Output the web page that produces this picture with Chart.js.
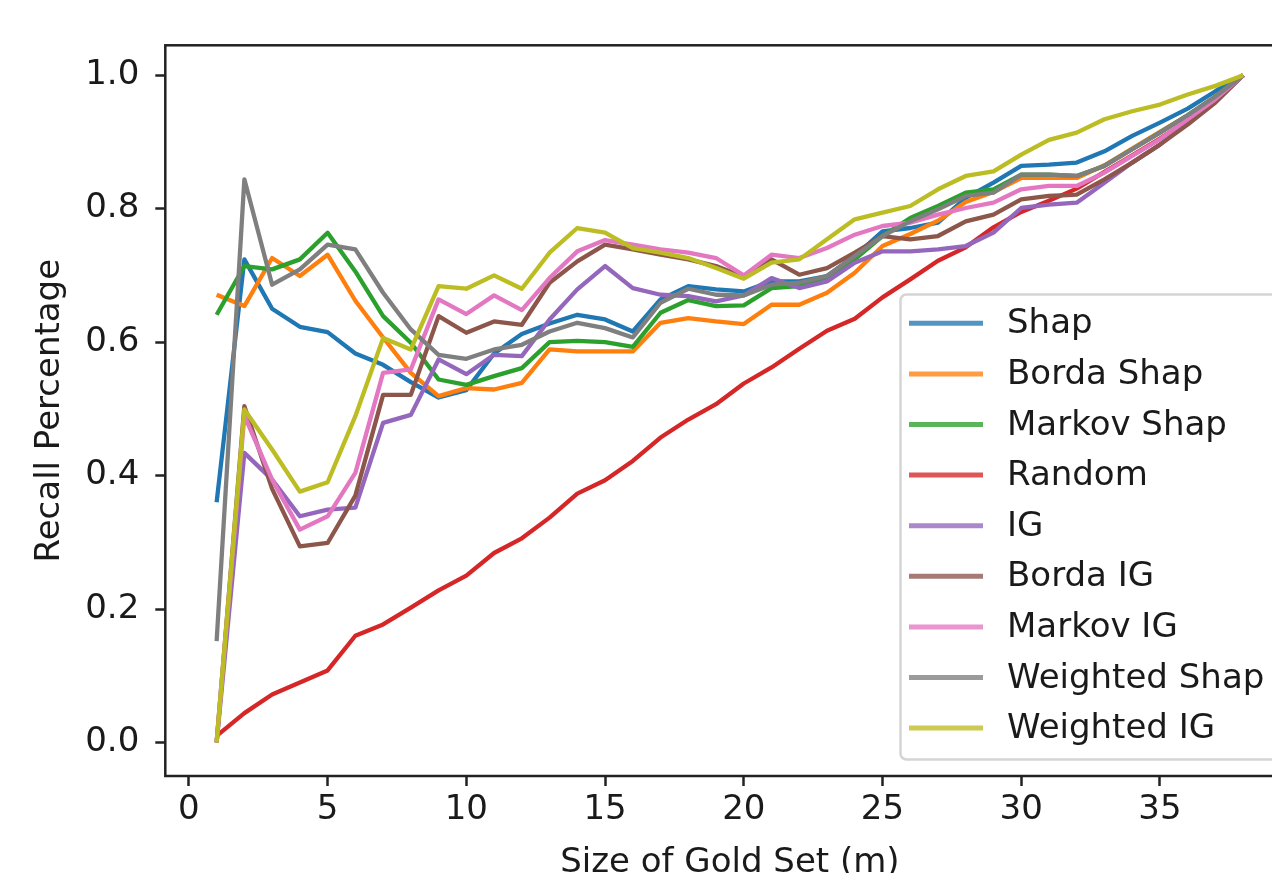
<!DOCTYPE html>
<html>
<head>
<meta charset="utf-8">
<script src="https://cdn.jsdelivr.net/npm/chart.js@4/dist/chart.umd.min.js"></script>
<style>
html,body{margin:0;padding:0;overflow:hidden;background:#fff;width:1272px;height:873px}
canvas{position:absolute;left:0;top:0}
</style>
</head>
<body>
<canvas id="c" width="1310" height="900"></canvas>
<script>
// ---- data ----
const goldSetSizes = [1,2,3,4,5,6,7,8,9,10,11,12,13,14,15,16,17,18,19,20,21,22,23,24,25,26,27,28,29,30,31,32,33,34,35,36,37,38];

const shap = [0.36,0.724,0.65,0.623,0.615,0.583,0.566,0.54,0.517,0.528,0.583,0.612,0.628,0.641,0.634,0.616,0.664,0.684,0.679,0.676,0.691,0.691,0.699,0.729,0.766,0.771,0.779,0.816,0.839,0.864,0.866,0.869,0.886,0.909,0.929,0.95,0.976,1.0];
const bordaShap = [0.671,0.654,0.726,0.699,0.731,0.662,0.607,0.554,0.519,0.531,0.529,0.539,0.589,0.586,0.586,0.586,0.629,0.636,0.631,0.627,0.656,0.656,0.674,0.704,0.744,0.762,0.782,0.81,0.825,0.846,0.846,0.846,0.865,0.89,0.915,0.94,0.968,1.0];
const markovShap = [0.641,0.714,0.709,0.724,0.764,0.706,0.639,0.599,0.544,0.536,0.549,0.561,0.6,0.602,0.6,0.593,0.644,0.663,0.654,0.655,0.681,0.684,0.694,0.724,0.759,0.786,0.804,0.824,0.829,0.851,0.851,0.849,0.864,0.889,0.914,0.94,0.968,1.0];
const random = [0.01,0.044,0.072,0.09,0.108,0.16,0.177,0.202,0.228,0.25,0.284,0.306,0.337,0.373,0.393,0.422,0.457,0.484,0.507,0.538,0.562,0.59,0.617,0.635,0.667,0.694,0.722,0.742,0.772,0.795,0.812,0.83,0.855,0.88,0.905,0.932,0.962,1.0];
const ig = [0.0,0.434,0.394,0.339,0.349,0.352,0.479,0.491,0.574,0.552,0.581,0.579,0.634,0.679,0.714,0.681,0.671,0.669,0.661,0.67,0.696,0.681,0.691,0.719,0.736,0.736,0.739,0.744,0.764,0.801,0.806,0.809,0.839,0.869,0.896,0.929,0.961,1.0];
const bordaIG = [0.0,0.504,0.38,0.294,0.299,0.37,0.521,0.521,0.639,0.614,0.631,0.626,0.689,0.721,0.746,0.739,0.731,0.724,0.714,0.698,0.724,0.701,0.711,0.734,0.759,0.754,0.759,0.781,0.791,0.814,0.819,0.821,0.844,0.869,0.896,0.926,0.959,1.0];
const markovIG = [0.0,0.49,0.394,0.319,0.339,0.404,0.554,0.559,0.664,0.642,0.67,0.648,0.696,0.736,0.753,0.746,0.739,0.734,0.726,0.7,0.731,0.726,0.741,0.761,0.774,0.779,0.791,0.801,0.809,0.829,0.834,0.834,0.854,0.879,0.904,0.934,0.964,1.0];
const weightedShap = [0.152,0.844,0.686,0.709,0.746,0.739,0.674,0.619,0.581,0.575,0.589,0.596,0.616,0.629,0.621,0.607,0.659,0.68,0.671,0.67,0.686,0.689,0.699,0.729,0.759,0.781,0.799,0.819,0.824,0.851,0.851,0.849,0.864,0.889,0.914,0.94,0.968,1.0];
const weightedIG = [0.0,0.499,0.439,0.376,0.39,0.489,0.606,0.589,0.684,0.68,0.7,0.68,0.734,0.771,0.764,0.741,0.734,0.726,0.711,0.695,0.719,0.724,0.754,0.784,0.794,0.804,0.829,0.849,0.856,0.881,0.903,0.914,0.934,0.946,0.956,0.971,0.984,1.0];

const seriesNames = ['Shap','Borda Shap','Markov Shap','Random','IG','Borda IG','Markov IG','Weighted Shap','Weighted IG'];
const seriesValues = [shap,bordaShap,markovShap,random,ig,bordaIG,markovIG,weightedShap,weightedIG];
const seriesColors = ['#1f77b4','#ff7f0e','#2ca02c','#d62728','#9467bd','#8c564b','#e377c2','#7f7f7f','#bcbd22'];

const xTickValues = [0,5,10,15,20,25,30,35];
const yTickValues = [0.0,0.2,0.4,0.6,0.8,1.0];
const xTitle = 'Size of Gold Set (m)';
const yTitle = 'Recall Percentage';

// ---- layout constants ----
const FONT = 'DejaVu Sans';
const FS = 34;
const AREA = {left:165.3, top:45.3, right:1294.5, bottom:776};
const CANVAS_W = 1310, CANVAS_H = 900;
const INK = '#1a1a1a';

function hexAlpha(hex, a){
  const r=parseInt(hex.slice(1,3),16), g=parseInt(hex.slice(3,5),16), b=parseInt(hex.slice(5,7),16);
  return `rgba(${r},${g},${b},${a})`;
}

const datasets = seriesNames.map((name,i)=>({
  label: name,
  data: goldSetSizes.map((x,j)=>({x:x, y:seriesValues[i][j]})),
  borderColor: seriesColors[i],
  backgroundColor: seriesColors[i],
  borderWidth: 4.3,
  pointRadius: 0,
  pointHoverRadius: 0,
  tension: 0,
  fill: false,
  borderJoinStyle: 'round',
  borderCapStyle: 'butt',
  order: seriesNames.length - 1 - i
}));

const framePlugin = {
  id: 'frame',
  afterDatasetsDraw(chart){
    const {ctx, chartArea:a} = chart;
    ctx.save();
    ctx.strokeStyle = '#222';
    ctx.lineWidth = 2.5;
    ctx.strokeRect(a.left, a.top, a.right - a.left, a.bottom - a.top);
    ctx.restore();
  }
};

const legendPlugin = {
  id: 'customLegend',
  afterDraw(chart){
    const ctx = chart.ctx;
    const bx = 900.5, by = 294.5, bw = 500, bh = 465, r = 6;
    ctx.save();
    ctx.beginPath();
    ctx.moveTo(bx + r, by);
    ctx.lineTo(bx + bw - r, by);
    ctx.arcTo(bx + bw, by, bx + bw, by + r, r);
    ctx.lineTo(bx + bw, by + bh - r);
    ctx.arcTo(bx + bw, by + bh, bx + bw - r, by + bh, r);
    ctx.lineTo(bx + r, by + bh);
    ctx.arcTo(bx, by + bh, bx, by + bh - r, r);
    ctx.lineTo(bx, by + r);
    ctx.arcTo(bx, by, bx + r, by, r);
    ctx.closePath();
    ctx.fillStyle = 'rgba(255,255,255,0.8)';
    ctx.fill();
    ctx.strokeStyle = 'rgba(204,204,204,0.85)';
    ctx.lineWidth = 2.5;
    ctx.stroke();
    chart.data.datasets.forEach((ds,i)=>{
      const y = 323.3 + 50.6*i;
      ctx.beginPath();
      ctx.moveTo(909, y);
      ctx.lineTo(983, y);
      ctx.strokeStyle = hexAlpha(ds.borderColor, 0.78);
      ctx.lineWidth = 5;
      ctx.stroke();
      ctx.fillStyle = INK;
      ctx.font = `${FS}px "${FONT}"`;
      ctx.textAlign = 'left';
      ctx.textBaseline = 'alphabetic';
      ctx.fillText(ds.label, 1007, y + 10);
    });
    ctx.restore();
  }
};

new Chart(document.getElementById('c'), {
  type: 'line',
  data: { datasets },
  options: {
    responsive: false,
    animation: false,
    events: [],
    layout: { padding: { left: 0, top: AREA.top, right: CANVAS_W - AREA.right, bottom: 0 } },
    plugins: { legend: { display: false }, tooltip: { enabled: false } },
    scales: {
      x: {
        type: 'linear',
        min: -0.85,
        max: 39.85,
        afterFit(s){ s.height = CANVAS_H - AREA.bottom; },
        afterBuildTicks(s){ s.ticks = xTickValues.map(v=>({value:v})); },
        ticks: {
          autoSkip: false, maxRotation: 0, padding: 4,
          color: INK, font: { family: FONT, size: FS },
          callback: v => String(v)
        },
        grid: { display: true, drawOnChartArea: false, drawTicks: true, tickLength: 10, tickWidth: 2.5, tickColor: '#222', color: '#222' },
        border: { display: false },
        title: { display: true, text: xTitle, color: INK, font: { family: FONT, size: FS }, padding: { top: 0, bottom: 16.5 } }
      },
      y: {
        type: 'linear',
        min: -0.0502,
        max: 1.0448,
        afterFit(s){ s.width = AREA.left; },
        afterBuildTicks(s){ s.ticks = yTickValues.map(v=>({value:v})); },
        ticks: {
          autoSkip: false, padding: 16,
          color: INK, font: { family: FONT, size: FS },
          callback: v => Number(v).toFixed(1)
        },
        grid: { display: true, drawOnChartArea: false, drawTicks: true, tickLength: 10, tickWidth: 2.5, tickColor: '#222', color: '#222' },
        border: { display: false },
        title: { display: true, text: yTitle, color: INK, font: { family: FONT, size: FS }, padding: { top: 30, bottom: 0 } }
      }
    }
  },
  plugins: [framePlugin, legendPlugin]
});
</script>
</body>
</html>
